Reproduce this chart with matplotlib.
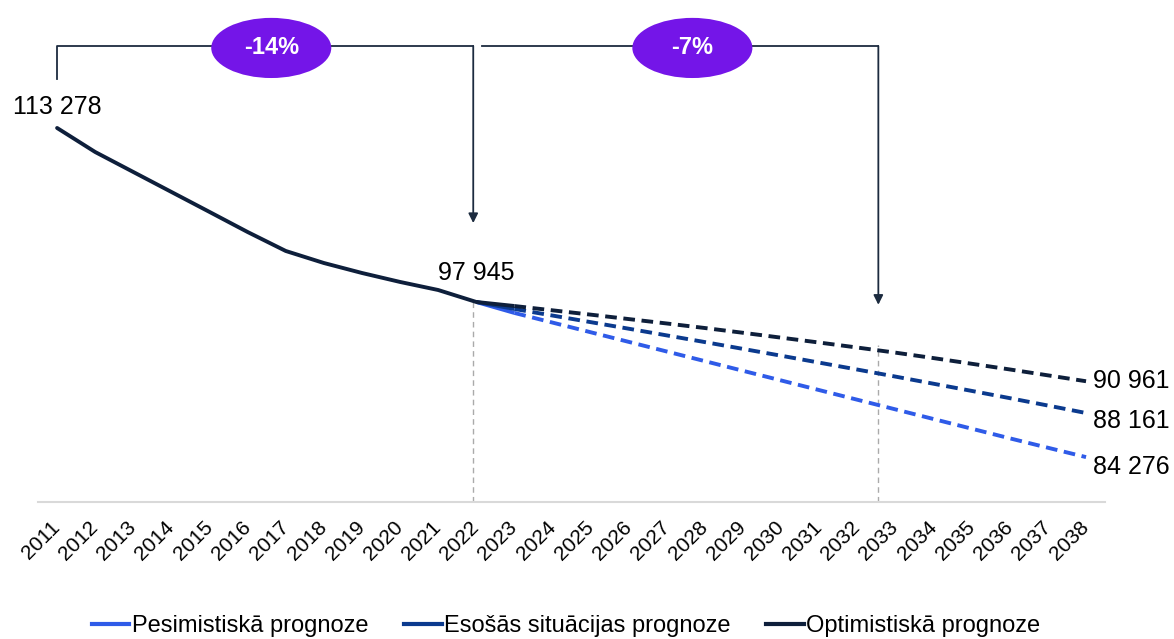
import matplotlib
matplotlib.use("Agg")
import matplotlib.pyplot as plt
from matplotlib.patches import Ellipse
from matplotlib.lines import Line2D

plt.rcParams['font.family'] = ['Liberation Sans', 'DejaVu Sans']

years = [str(y) for y in range(2011, 2039)]

# vēsturiskie dati 2011-2022
history = [113278, 111160, 109400, 107640, 105880, 104110, 102440,
           101380, 100500, 99710, 99000, 97945]

# prognozes 2022-2038
pessimistic = [97945, 96980, 96130, 95280, 94430, 93580, 92730, 91880, 91030,
               90180, 89330, 88480, 87630, 86780, 85930, 85100, 84276]
baseline = [97945, 97330, 96750, 96170, 95590, 95000, 94410, 93810, 93210,
            92600, 91990, 91370, 90740, 90110, 89470, 88820, 88161]
optimistic = [97945, 97590, 97210, 96830, 96440, 96050, 95650, 95230, 94800,
              94370, 93930, 93480, 93000, 92500, 92000, 91480, 90961]

series_names = ['Pesimistiskā prognoze', 'Esošās situācijas prognoze', 'Optimistiskā prognoze']
colors = ['#2F5BE8', '#0B3A8E', '#0E1F3B']
forecasts = [pessimistic, baseline, optimistic]

change_labels = ['-14%', '-7%']

fig = plt.figure(figsize=(11.74, 6.39), dpi=100)
ax = fig.add_axes([0.0324, 0.2144, 0.9089, 0.7047])

x_hist = list(range(len(history)))
start = len(history) - 1
for vals, c in zip(forecasts, colors):
    xf = list(range(start, start + len(vals)))
    ax.plot(xf[:2], vals[:2], color=c, lw=2.8, solid_capstyle='butt', zorder=3)
    ax.plot(xf[1:], vals[1:], color=c, lw=2.8, dashes=(3.0, 1.7), zorder=3)
ax.plot(x_hist, history, color=colors[2], lw=2.8, zorder=4, solid_capstyle='round')

ax.set_xlim(-0.5, len(years) - 0.5)
ax.set_ylim(80320, 120000)
ax.set_xticks(range(len(years)))
ax.set_xticklabels(years, rotation=45, ha='right', va='center',
                   rotation_mode='anchor', fontsize=15)
ax.tick_params(axis='x', length=0, pad=16)
ax.set_yticks([])
for s in ['top', 'left', 'right']:
    ax.spines[s].set_visible(False)
ax.spines['bottom'].set_color('#D9D9D9')
ax.spines['bottom'].set_linewidth(1.5)

# vertikālās palīglīnijas
ax.plot([10.92, 10.92], [80320, 97945], color='#AAAAAA', lw=1, ls=(0, (4, 3)), zorder=1)
ax.plot([21.55, 21.55], [80320, 94150], color='#AAAAAA', lw=1, ls=(0, (4, 3)), zorder=1)

# vērtību uzraksti
ax.annotate('113 278', (0, history[0]), xytext=(0, 15), textcoords='offset points',
            ha='center', va='center', fontsize=18)
ax.annotate('97 945', (10.92, history[-1]), xytext=(2, 21), textcoords='offset points',
            ha='center', va='center', fontsize=18)
end_x = start + len(optimistic) - 1
for vals, dy in zip([optimistic, baseline, pessimistic], [0, -6, -7]):
    ax.annotate(f'{vals[-1]:,}'.replace(',', ' '), (end_x, vals[-1]), xytext=(5, dy),
                textcoords='offset points', ha='left', va='center', fontsize=18)

# iekavas ar bultām
bc = '#1C2B3F'
top = 120500
ax.plot([0, 0, 10.92], [117600, top, top], color=bc, lw=1.3, clip_on=False, zorder=2)
ax.annotate('', xy=(10.92, 104900), xytext=(10.92, top),
            arrowprops=dict(arrowstyle='-|>', color=bc, lw=1.3, mutation_scale=14,
                            shrinkA=0, shrinkB=0), annotation_clip=False)
ax.plot([11.15, 21.55], [top, top], color=bc, lw=1.3, clip_on=False, zorder=2)
ax.annotate('', xy=(21.55, 97700), xytext=(21.55, top),
            arrowprops=dict(arrowstyle='-|>', color=bc, lw=1.3, mutation_scale=14,
                            shrinkA=0, shrinkB=0), annotation_clip=False)

for cx, lab in zip([5.62, 16.67], change_labels):
    e = Ellipse((cx, 120330), width=3.15, height=5300, facecolor='#7415E8',
                edgecolor='none', clip_on=False, zorder=5)
    ax.add_patch(e)
    ax.text(cx, 120330, lab, color='white', fontsize=17, fontweight='bold',
            ha='center', va='center', zorder=6)

handles = [Line2D([0], [0], color=c, lw=3) for c in colors]
fig.legend(handles, series_names, loc='lower center', bbox_to_anchor=(0.482, -0.03),
           ncol=3, frameon=False, fontsize=17, handlelength=1.6, handletextpad=0.1,
           columnspacing=1.5)

fig.savefig('out.png', dpi=100)
